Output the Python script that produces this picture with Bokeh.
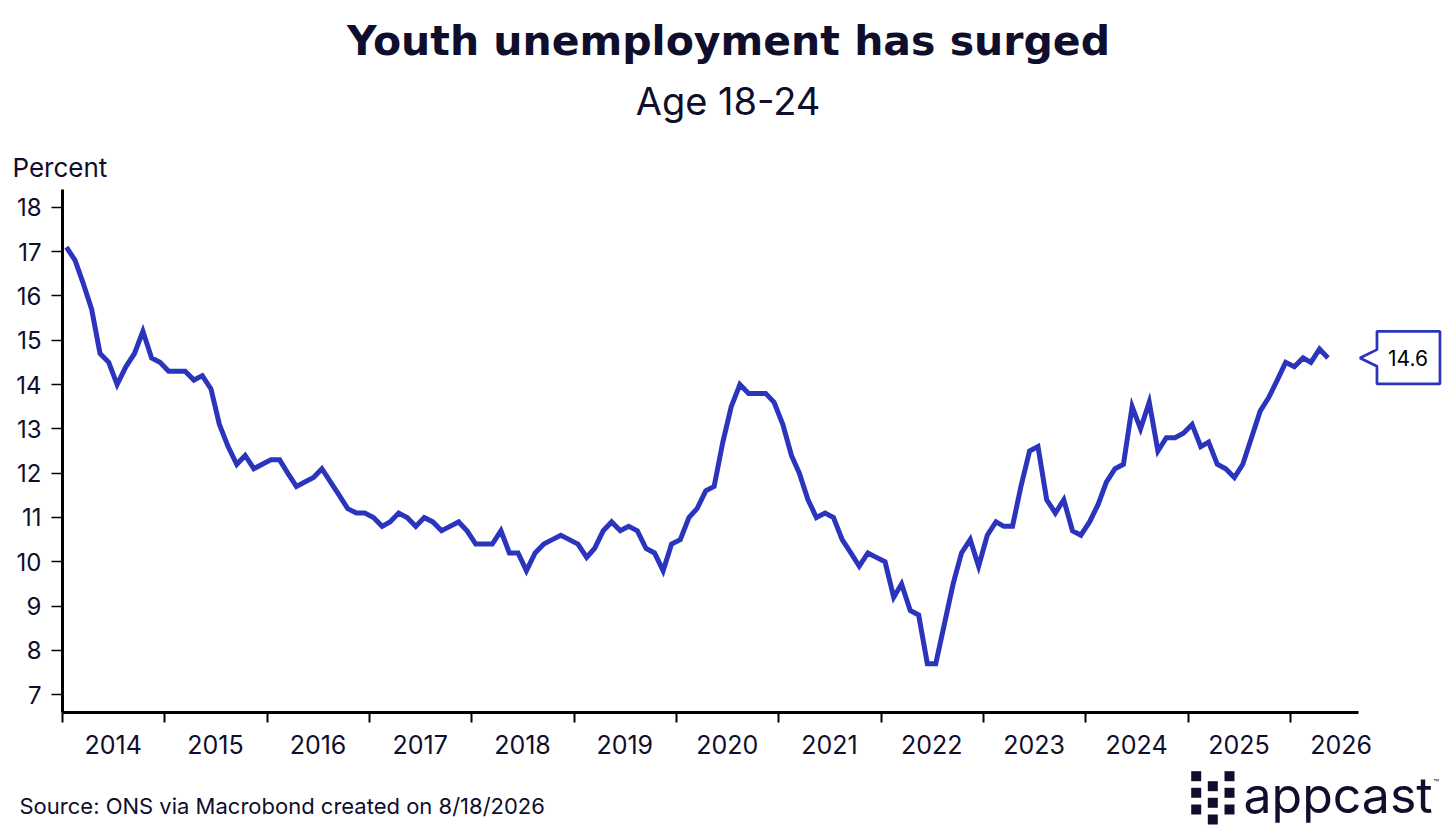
import pandas as pd
from bokeh.plotting import figure
from bokeh.models import Range1d, FixedTicker, DatetimeTickFormatter, Label, PolyAnnotation
from bokeh.embed import file_html
from bokeh.resources import INLINE

# ---------------- data ----------------
first_month = "2014-01-01"
rate = [
    17.1, 16.8, 16.3, 15.7, 14.7, 14.5, 14.0, 14.4, 14.7, 15.2, 14.6, 14.5,   # 2014
    14.3, 14.3, 14.3, 14.1, 14.2, 13.9, 13.1, 12.6, 12.2, 12.4, 12.1, 12.2,   # 2015
    12.3, 12.3, 12.0, 11.7, 11.8, 11.9, 12.1, 11.8, 11.5, 11.2, 11.1, 11.1,   # 2016
    11.0, 10.8, 10.9, 11.1, 11.0, 10.8, 11.0, 10.9, 10.7, 10.8, 10.9, 10.7,   # 2017
    10.4, 10.4, 10.4, 10.7, 10.2, 10.2, 9.8, 10.2, 10.4, 10.5, 10.6, 10.5,    # 2018
    10.4, 10.1, 10.3, 10.7, 10.9, 10.7, 10.8, 10.7, 10.3, 10.2, 9.8, 10.4,    # 2019
    10.5, 11.0, 11.2, 11.6, 11.7, 12.7, 13.5, 14.0, 13.8, 13.8, 13.8, 13.6,   # 2020
    13.1, 12.4, 12.0, 11.4, 11.0, 11.1, 11.0, 10.5, 10.2, 9.9, 10.2, 10.1,    # 2021
    10.0, 9.2, 9.5, 8.9, 8.8, 7.7, 7.7, 8.6, 9.5, 10.2, 10.5, 9.9,            # 2022
    10.6, 10.9, 10.8, 10.8, 11.7, 12.5, 12.6, 11.4, 11.1, 11.4, 10.7, 10.6,   # 2023
    10.9, 11.3, 11.8, 12.1, 12.2, 13.5, 13.0, 13.6, 12.5, 12.8, 12.8, 12.9,   # 2024
    13.1, 12.6, 12.7, 12.2, 12.1, 11.9, 12.2, 12.8, 13.4, 13.7, 14.1, 14.5,   # 2025
    14.4, 14.6, 14.5, 14.8, 14.6,                                             # 2026
]
year_labels = list(range(2014, 2027))
y_ticks = list(range(7, 19))

title_text = "Youth unemployment has surged"
subtitle_text = "Age 18-24"
y_title = "Percent"
source_text = "Source: ONS via Macrobond created on 8/18/2026"

# ---------------- styling ----------------
BLUE = "#2b34bd"
NAVY = "#0f0e2c"
FONT = "Inter"

W, H = 1448, 832
# chart area (px from the canvas top-left)
AL, AR, AT, AB = 62, 1358, 189, 712

dates = pd.date_range(first_month, periods=len(rate), freq="MS") + pd.Timedelta(days=14)


def ms(t):
    return (pd.Timestamp(t) - pd.Timestamp("1970-01-01")).total_seconds() * 1000.0


X0, X1 = ms("2014-01-01"), ms("2026-09-01")   # axis extent
Y0, Y1 = 6.6, 18.4

KX = (X1 - X0) / (AR - AL)          # ms per px
KY = (Y1 - Y0) / (AB - AT)          # units per px
XL = X0 - AL * KX
XR = XL + W * KX
YT = Y1 + AT * KY
YB = YT - H * KY


def fx(px):   # canvas px -> data x
    return XL + px * KX


def fy(py):   # canvas px -> data y
    return YT - py * KY


p = figure(width=W, height=H, x_axis_type="datetime",
           x_range=Range1d(XL, XR), y_range=Range1d(YB, YT),
           output_backend="svg", toolbar_location=None,
           min_border=0, min_border_left=0, min_border_right=0,
           min_border_top=0, min_border_bottom=0)
p.outline_line_color = None
p.xgrid.visible = False
p.ygrid.visible = False
p.background_fill_color = "white"
p.border_fill_color = "white"

p.line(dates, rate, line_color=BLUE, line_width=5, line_join="miter")

# x axis: labels mid-year, ticks at year boundaries
xa = p.xaxis[0]
xa.fixed_location = Y0
xa.bounds = (X0, X1)
xa.ticker = FixedTicker(ticks=[ms(f"{y}-07-01") for y in year_labels],
                        minor_ticks=[ms(f"{y}-01-01") for y in year_labels])
fmt = "%Y"
xa.formatter = DatetimeTickFormatter(microseconds=fmt, milliseconds=fmt, seconds=fmt,
                                     minsec=fmt, minutes=fmt, hourmin=fmt, hours=fmt,
                                     days=fmt, months=fmt, years=fmt)
xa.axis_line_width = 3
xa.axis_line_color = "black"
xa.major_tick_out = 0
xa.major_tick_in = 0
xa.minor_tick_out = 10
xa.minor_tick_in = 0
xa.minor_tick_line_width = 2
xa.minor_tick_line_color = "black"
xa.major_label_text_font = FONT
xa.major_label_text_font_size = "25px"
xa.major_label_text_color = NAVY
xa.major_label_standoff = 12

ya = p.yaxis[0]
ya.fixed_location = X0
ya.bounds = (Y0, Y1)
ya.ticker = FixedTicker(ticks=y_ticks, minor_ticks=[])
ya.axis_line_width = 3
ya.axis_line_color = "black"
ya.major_tick_out = 11
ya.major_tick_in = 0
ya.major_tick_line_width = 1.5
ya.major_tick_line_color = "black"
ya.minor_tick_out = 0
ya.minor_tick_in = 0
ya.major_label_text_font = FONT
ya.major_label_text_font_size = "24px"
ya.major_label_text_color = NAVY
ya.major_label_standoff = 10


def add_text(txt, px, py, size, align="left", font=FONT, style="normal", color=NAVY):
    # py is the vertical centre of the capitals
    p.add_layout(Label(x=fx(px), y=fy(py), text=txt, text_align=align,
                       text_baseline="middle", text_font=font, text_font_style=style,
                       text_font_size=size, text_color=color))


add_text(title_text, 728, 40, "41px", align="center", font="DejaVu Sans", style="bold")
add_text(subtitle_text, 727.5, 100.5, "38px", align="center")
add_text(y_title, 12, 166.7, "26px")
add_text(source_text, 19, 805.4, "22px")

# end-value callout (offsets in px from the last point)
lx = ms(dates[-1])
lv = rate[-1]
pts = [(32, 0), (49, 8.3), (49, 26.6), (112, 26.6), (112, -26), (49, -26), (49, -8.3)]
p.add_layout(PolyAnnotation(xs=[lx + a * KX for a, b in pts], ys=[lv + b * KY for a, b in pts],
                            xs_units="data", ys_units="data",
                            fill_color="white", fill_alpha=1.0,
                            line_color=BLUE, line_alpha=1.0, line_width=2.7))
p.add_layout(Label(x=lx + 80 * KX, y=lv, text=f"{lv:.1f}", text_align="center",
                   text_baseline="middle", text_font=FONT,
                   text_font_size="21px", text_color="black"))

# logo
logo_cells = [(1190.7, 770.7), (1190.7, 787.3), (1190.7, 804.0),
              (1207.3, 780.7), (1207.3, 797.3), (1207.3, 814.0),
              (1224.0, 770.7), (1224.0, 787.3), (1224.0, 804.0)]
s = 10
for left, top in logo_cells:
    p.add_layout(PolyAnnotation(xs=[fx(left), fx(left + s), fx(left + s), fx(left)],
                                ys=[fy(top), fy(top), fy(top + s), fy(top + s)],
                                xs_units="data", ys_units="data",
                                fill_color=NAVY, fill_alpha=1.0, line_color=None))
p.add_layout(Label(x=fx(1243), y=fy(813 - 0.365 * 50), text="appcast", text_align="left",
                   text_baseline="middle", text_font=FONT,
                   text_font_size="50px", text_color=NAVY))
p.add_layout(Label(x=fx(1433), y=fy(782), text="™", text_align="left",
                   text_baseline="middle", text_font=FONT,
                   text_font_size="9px", text_color=NAVY))

open("out.html", "w").write(file_html(p, INLINE))
